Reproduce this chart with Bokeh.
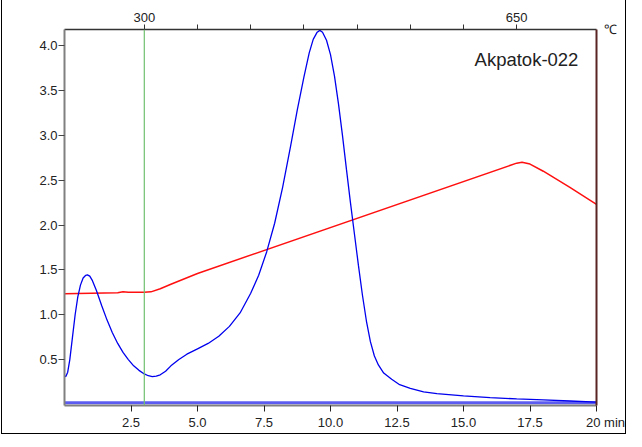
from bokeh.plotting import figure
from bokeh.models import LinearAxis, FixedTicker, Span, Label, Range1d
from bokeh.embed import file_html
from bokeh.resources import INLINE

# ---- data ----
blue_t = [0.0, 0.05, 0.12, 0.2, 0.3, 0.4, 0.5, 0.6, 0.7, 0.8, 0.86, 0.95, 1.05, 1.2, 1.4,
          1.6, 1.8, 2.0, 2.2, 2.4, 2.6, 2.8, 3.0, 3.15, 3.3, 3.45, 3.6, 3.8, 4.0, 4.3,
          4.6, 5.0, 5.4, 5.8, 6.2, 6.6, 7.0, 7.3, 7.6, 7.9, 8.2, 8.5, 8.75, 9.0, 9.2,
          9.35, 9.5, 9.6, 9.7, 9.85, 10.0, 10.15, 10.3, 10.45, 10.6, 10.75, 10.9, 11.05,
          11.2, 11.35, 11.5, 11.65, 11.8, 12.0, 12.3, 12.6, 13.0, 13.5, 14.0, 15.0, 16.0,
          17.0, 18.0, 19.0, 20.0]
blue_v = [0.32, 0.31, 0.36, 0.50, 0.75, 1.00, 1.20, 1.33, 1.41, 1.44, 1.445, 1.43, 1.38,
          1.27, 1.10, 0.94, 0.80, 0.68, 0.58, 0.50, 0.43, 0.38, 0.34, 0.32, 0.31, 0.315,
          0.33, 0.37, 0.43, 0.50, 0.56, 0.62, 0.68, 0.76, 0.87, 1.02, 1.24, 1.44, 1.70,
          2.02, 2.42, 2.88, 3.28, 3.65, 3.92, 4.07, 4.15, 4.17, 4.15, 4.06, 3.90, 3.66,
          3.35, 3.00, 2.62, 2.25, 1.90, 1.55, 1.22, 0.93, 0.70, 0.54, 0.44, 0.35, 0.28,
          0.22, 0.18, 0.14, 0.12, 0.095, 0.075, 0.062, 0.05, 0.038, 0.025]

red_t = [0.0, 1.0, 2.0, 2.2, 2.4, 3.0, 3.25, 3.6, 4.0, 5.0, 17.0, 17.2, 17.5, 18.0, 19.0, 20.0]
red_v = [1.235, 1.24, 1.245, 1.255, 1.25, 1.25, 1.255, 1.29, 1.34, 1.46, 2.69, 2.70, 2.68,
         2.60, 2.42, 2.23]

baseline_t = [0.0, 20.0]
baseline_v = [0.02, 0.02]

NB = "\u00a0"
x_ticks = [2.5, 5.0, 7.5, 10.0, 12.5, 15.0, 17.5, 20.0]
x_tick_labels = ["2.5", "5.0", "7.5", "10.0", "12.5", "15.0", "17.5", NB * 5 + "20" + NB + "min"]
y_ticks = [0.5, 1.0, 1.5, 2.0, 2.5, 3.0, 3.5, 4.0]
y_tick_labels = ["0.5", "1.0", "1.5", "2.0", "2.5", "3.0", "3.5", "4.0"]
temp_tick_pos = [3, 5, 7, 9, 11, 13, 15, 17]
temp_tick_labels = ["300", "", "", "", "", "", "", "650"]
unit_tick = [1.0]
unit_label = ["℃"]
marker_time = 3.0
sample_name = "Akpatok-022"

FONT = "Liberation Sans"
FS = "13px"

p = figure(width=625, height=436, output_backend="svg", toolbar_location=None,
           x_range=Range1d(0, 20), y_range=Range1d(-0.012, 4.18),
           x_axis_location=None, y_axis_location=None,
           min_border_left=62, min_border_right=31, min_border_top=30, min_border_bottom=30)
p.extra_y_ranges = {"unit": Range1d(0, 1)}
p.styles = {"border": "1px solid #000", "margin-top": "-2px", "margin-left": "1px"}
p.grid.visible = False
p.outline_line_color = None
p.background_fill_color = "white"
p.border_fill_color = "white"

def style_axis(ax, color, lw):
    ax.axis_line_color = color
    ax.axis_line_width = lw
    ax.major_tick_line_color = color
    ax.major_tick_line_width = 1
    ax.major_tick_in = 0
    ax.major_tick_out = 6
    ax.minor_tick_line_color = None
    ax.major_label_text_font = FONT
    ax.major_label_text_font_size = FS
    ax.major_label_text_color = "#222222"

xa = LinearAxis(ticker=FixedTicker(ticks=x_ticks),
                major_label_overrides={t: l for t, l in zip(x_ticks, x_tick_labels)})
style_axis(xa, "#808080", 2)
xa.major_tick_line_color = "#222222"
xa.major_label_standoff = 3
p.add_layout(xa, "below")

ya = LinearAxis(ticker=FixedTicker(ticks=y_ticks),
                major_label_overrides={t: l for t, l in zip(y_ticks, y_tick_labels)})
style_axis(ya, "#808080", 2)
ya.major_tick_line_color = "#444444"
ya.major_label_standoff = 1
p.add_layout(ya, "left")

ta = LinearAxis(ticker=FixedTicker(ticks=temp_tick_pos),
                major_label_overrides={t: l for t, l in zip(temp_tick_pos, temp_tick_labels)})
style_axis(ta, "#333333", 1.5)
ta.major_tick_out = 5
ta.major_label_standoff = 3
p.add_layout(ta, "above")

ra = LinearAxis(y_range_name="unit", ticker=FixedTicker(ticks=unit_tick),
                major_label_overrides={t: l for t, l in zip(unit_tick, unit_label)})
style_axis(ra, "#5a2424", 2)
ra.major_tick_line_color = None
ra.major_tick_out = 0
ra.major_label_standoff = 7
p.add_layout(ra, "right")

# marker line
p.add_layout(Span(location=marker_time, dimension="height", line_color="#70c070", line_width=1.2))

p.line(baseline_t, baseline_v, line_color="#5c5cf0", line_width=3)
p.line(red_t, red_v, line_color="#ff1010", line_width=1.5)
p.line(blue_t, blue_v, line_color="#0000ee", line_width=1.3)

p.add_layout(Label(x=19.32, y=3.85, text=sample_name, text_font=FONT,
                   text_font_size="18.5px", text_color="#222222", text_align="right",
                   text_baseline="middle"))

open("out.html", "w").write(file_html(p, INLINE))
